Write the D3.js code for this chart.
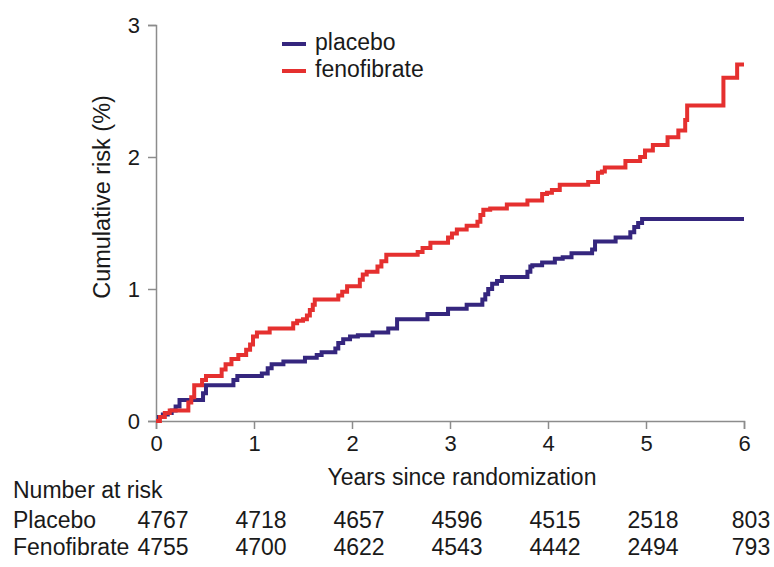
<!DOCTYPE html>
<html>
<head>
<meta charset="utf-8">
<script src="https://cdn.jsdelivr.net/npm/d3@7"></script>
<style>
  body { margin: 0; background: #fff; }
  svg text { font-family: "Liberation Sans", Arial, sans-serif; fill: #1a1a1a; }
</style>
</head>
<body>
<svg id="chart" width="774" height="567"></svg>
<script>
// step points [years, cumulative risk %]
var placebo = [
  [0, 0], [0.03, 0.03], [0.07, 0.05], [0.12, 0.06], [0.16, 0.08], [0.20, 0.11], [0.24, 0.16],
  [0.48, 0.21], [0.51, 0.27], [0.79, 0.31], [0.83, 0.34], [1.08, 0.36], [1.14, 0.40], [1.18, 0.43],
  [1.30, 0.45], [1.52, 0.48], [1.64, 0.50], [1.69, 0.52], [1.83, 0.55], [1.86, 0.59], [1.91, 0.62],
  [1.98, 0.64], [2.06, 0.65], [2.21, 0.67], [2.37, 0.70], [2.46, 0.77], [2.77, 0.81], [2.98, 0.85],
  [3.17, 0.88], [3.33, 0.92], [3.36, 0.96], [3.39, 1.00], [3.43, 1.04], [3.48, 1.06], [3.53, 1.09],
  [3.79, 1.13], [3.82, 1.17], [3.84, 1.18], [3.94, 1.20], [4.07, 1.23], [4.15, 1.24], [4.24, 1.27],
  [4.45, 1.30], [4.48, 1.36], [4.69, 1.39], [4.84, 1.43], [4.88, 1.47], [4.92, 1.50], [4.96, 1.53],
  [6.0, 1.53]
];
var fenofibrate = [
  [0, 0], [0.04, 0.03], [0.09, 0.06], [0.14, 0.08], [0.33, 0.14], [0.36, 0.18], [0.39, 0.27],
  [0.47, 0.31], [0.51, 0.34], [0.67, 0.39], [0.71, 0.43], [0.77, 0.47], [0.84, 0.50], [0.92, 0.54],
  [0.96, 0.58], [0.99, 0.64], [1.03, 0.67], [1.16, 0.70], [1.40, 0.74], [1.44, 0.76], [1.50, 0.77],
  [1.54, 0.80], [1.57, 0.84], [1.60, 0.88], [1.62, 0.92], [1.86, 0.95], [1.90, 0.98], [1.95, 1.02],
  [2.08, 1.07], [2.11, 1.11], [2.15, 1.13], [2.26, 1.17], [2.30, 1.21], [2.35, 1.26], [2.67, 1.28],
  [2.72, 1.31], [2.80, 1.35], [2.98, 1.39], [3.02, 1.42], [3.07, 1.45], [3.17, 1.48], [3.28, 1.51],
  [3.31, 1.56], [3.34, 1.60], [3.41, 1.61], [3.58, 1.64], [3.79, 1.67], [3.94, 1.72], [3.99, 1.73],
  [4.04, 1.75], [4.12, 1.79], [4.41, 1.81], [4.51, 1.88], [4.55, 1.89], [4.58, 1.92], [4.79, 1.97],
  [4.94, 2.00], [4.99, 2.05], [5.07, 2.09], [5.22, 2.15], [5.33, 2.20], [5.40, 2.28], [5.42, 2.39],
  [5.79, 2.60], [5.93, 2.70], [6.0, 2.70]
];
var xTicks = [0, 1, 2, 3, 4, 5, 6];
var yTicks = [0, 1, 2, 3];
var riskRows = ["Placebo", "Fenofibrate"];
var riskPlacebo = [4767, 4718, 4657, 4596, 4515, 2518, 803];
var riskFeno = [4755, 4700, 4622, 4543, 4442, 2494, 793];

var svg = d3.select("#chart");
var x = d3.scaleLinear().domain([0, 6]).range([156, 744]);
var y = d3.scaleLinear().domain([0, 3]).range([421, 25]);
var axisColor = "#8c8c8c";

// axes
var xAxis = svg.append("g").attr("transform", "translate(0,421)")
    .call(d3.axisBottom(x).tickValues(xTicks).tickSize(8).tickPadding(6).tickFormat(d3.format("d")));
var yAxis = svg.append("g").attr("transform", "translate(156,0)")
    .call(d3.axisLeft(y).tickValues(yTicks).tickSize(8).tickPadding(8).tickFormat(d3.format("d")));
[xAxis, yAxis].forEach(function (a) {
    a.select(".domain").attr("stroke", axisColor).attr("stroke-width", 1.5);
    a.selectAll(".tick line").attr("stroke", axisColor).attr("stroke-width", 1.5);
    a.selectAll(".tick text").style("font-size", "22px").attr("fill", "#1a1a1a");
});

// curves
var line = d3.line()
    .x(function (d) { return x(d[0]); })
    .y(function (d) { return y(d[1]); })
    .curve(d3.curveStepAfter);

svg.append("path").datum(placebo)
    .attr("d", line).attr("fill", "none")
    .attr("stroke", "#35267e").attr("stroke-width", 4);
svg.append("path").datum(fenofibrate)
    .attr("d", line).attr("fill", "none")
    .attr("stroke", "#e5302f").attr("stroke-width", 4);

// legend
var legend = [["placebo", "#35267e", 50], ["fenofibrate", "#e5302f", 77]];
legend.forEach(function (l) {
    svg.append("line").attr("x1", 282).attr("x2", 306)
        .attr("y1", l[2] - 6).attr("y2", l[2] - 6)
        .attr("stroke", l[1]).attr("stroke-width", 4);
    svg.append("text").attr("x", 315).attr("y", l[2])
        .style("font-size", "23px").text(l[0]);
});

// axis titles
svg.append("text")
    .attr("transform", "translate(110,197) rotate(-90)")
    .attr("text-anchor", "middle")
    .style("font-size", "23.5px")
    .text("Cumulative risk (%)");
svg.append("text")
    .attr("x", 462).attr("y", 485)
    .attr("text-anchor", "middle")
    .style("font-size", "23px")
    .text("Years since randomization");

// number at risk table
svg.append("text").attr("x", 13).attr("y", 498)
    .style("font-size", "23px").text("Number at risk");
[riskPlacebo, riskFeno].forEach(function (row, r) {
    var yy = 528 + r * 27;
    svg.append("text").attr("x", 13).attr("y", yy)
        .style("font-size", "23px").text(riskRows[r]);
    svg.selectAll(null).data(row).enter().append("text")
        .attr("x", function (d, i) { return x(xTicks[i]) + 7; })
        .attr("y", yy)
        .attr("text-anchor", "middle")
        .style("font-size", "23px")
        .text(function (d) { return d; });
});
</script>
</body>
</html>
